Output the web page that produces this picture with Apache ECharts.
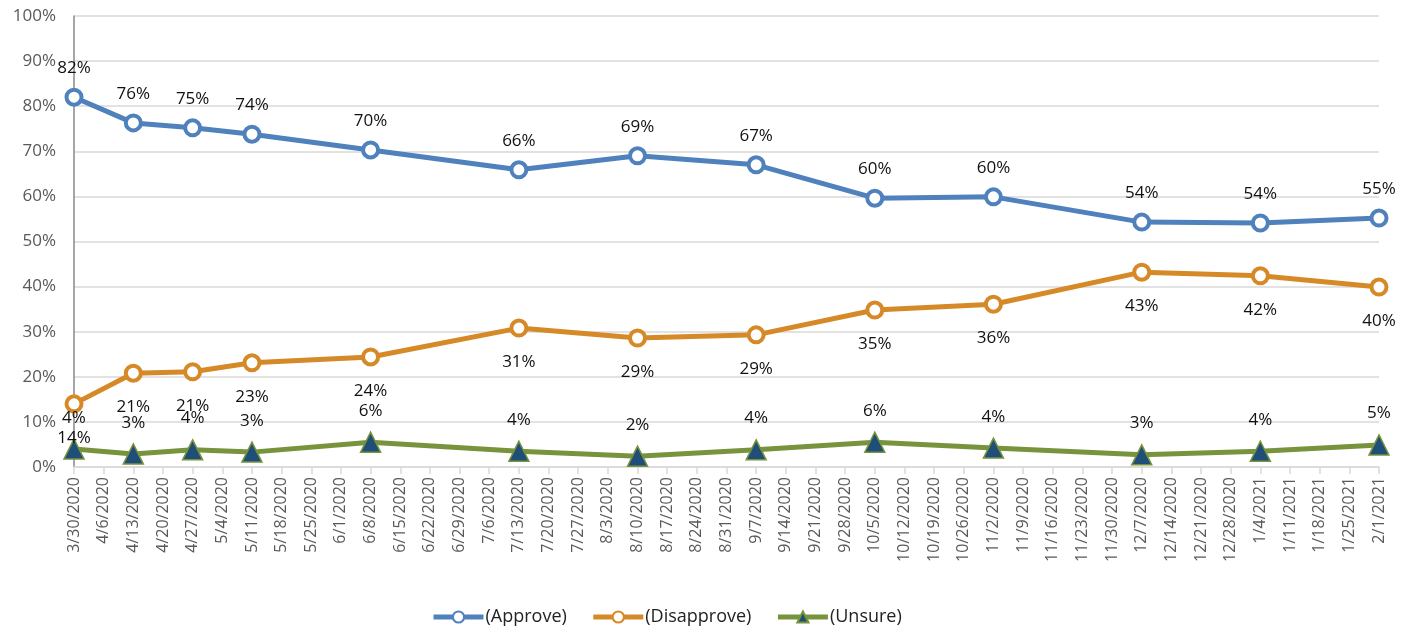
<!DOCTYPE html>
<html>
<head>
<meta charset="utf-8">
<script src="https://cdn.jsdelivr.net/npm/echarts@6/dist/echarts.min.js"></script>
<style>
  html, body { margin: 0; padding: 0; background: #fff; }
  #chart { width: 1412px; height: 632px; }
</style>
</head>
<body>
<div id="chart"></div>
<script>
// weekly dates on the category axis
const dates = [
  '3/30/2020', '4/6/2020', '4/13/2020', '4/20/2020', '4/27/2020', '5/4/2020', '5/11/2020',
  '5/18/2020', '5/25/2020', '6/1/2020', '6/8/2020', '6/15/2020', '6/22/2020', '6/29/2020',
  '7/6/2020', '7/13/2020', '7/20/2020', '7/27/2020', '8/3/2020', '8/10/2020', '8/17/2020',
  '8/24/2020', '8/31/2020', '9/7/2020', '9/14/2020', '9/21/2020', '9/28/2020', '10/5/2020',
  '10/12/2020', '10/19/2020', '10/26/2020', '11/2/2020', '11/9/2020', '11/16/2020',
  '11/23/2020', '11/30/2020', '12/7/2020', '12/14/2020', '12/21/2020', '12/28/2020',
  '1/4/2021', '1/11/2021', '1/18/2021', '1/25/2021', '2/1/2021'
];
// survey dates that have values
const surveyDates = [
  '3/30/2020', '4/13/2020', '4/27/2020', '5/11/2020', '6/8/2020', '7/13/2020', '8/10/2020',
  '9/7/2020', '10/5/2020', '11/2/2020', '12/7/2020', '1/4/2021', '2/1/2021'
];
const approve = [82, 76.3, 75.2, 73.8, 70.3, 65.9, 69, 67, 59.6, 59.9, 54.3, 54.1, 55.2];
const disapprove = [14, 20.8, 21.1, 23.1, 24.4, 30.8, 28.6, 29.3, 34.8, 36.1, 43.2, 42.4, 39.9];
const unsure = [4, 2.9, 3.8, 3.3, 5.5, 3.5, 2.4, 3.8, 5.5, 4.2, 2.7, 3.5, 4.9];
const yTicks = [0, 10, 20, 30, 40, 50, 60, 70, 80, 90, 100];

function spread(vals) {
  return dates.map(d => {
    const i = surveyDates.indexOf(d);
    return i < 0 ? null : vals[i];
  });
}

const font = '"Open Sans", "Noto Sans", sans-serif';
const pct = p => Math.round(p.value) + '%';

function lineSeries(name, vals, color, pos, dist, opts) {
  return Object.assign({
    name: name,
    type: 'line',
    data: spread(vals),
    connectNulls: true,
    symbol: 'circle',
    symbolSize: 15,
    lineStyle: { color: color, width: 5 },
    itemStyle: { color: '#fff', borderColor: color, borderWidth: 4 },
    label: {
      show: true, position: pos, distance: dist, formatter: pct,
      color: '#111', fontSize: 17, fontFamily: font
    },
    emphasis: { disabled: true }
  }, opts || {});
}

const chart = echarts.init(document.getElementById('chart'));
chart.setOption({
  animation: false,
  textStyle: { fontFamily: font },
  grid: { left: 74, right: 33, top: 16, bottom: 165 },
  legend: {
    bottom: 1,
    left: 426,
    itemWidth: 50, itemHeight: 14, itemGap: 24,
    lineStyle: { width: 5 },
    textStyle: { fontSize: 18, color: '#222', fontFamily: font, padding: [0, 0, 0, -3] },
    data: ['(Approve)', '(Disapprove)', '(Unsure)']
  },
  xAxis: {
    type: 'category',
    data: dates,
    boundaryGap: false,
    axisLine: { lineStyle: { color: '#d9d9d9', width: 1.5 } },
    axisTick: { show: true, alignWithLabel: true, length: 7, lineStyle: { color: '#d9d9d9', width: 1.5 } },
    axisLabel: { interval: 0, rotate: 90, fontSize: 16, color: '#595959', margin: 10 }
  },
  yAxis: {
    type: 'value',
    min: 0, max: 100, interval: 10,
    axisLine: { show: true, lineStyle: { color: '#888', width: 1.5 } },
    axisTick: { show: false },
    splitLine: { lineStyle: { color: '#d9d9d9', width: 1.5 } },
    axisLabel: {
      fontSize: 17, color: '#595959', margin: 18,
      customValues: yTicks,
      formatter: v => v + '%'
    }
  },
  series: [
    lineSeries('(Approve)', approve, '#4F81BD', 'top', 11),
    lineSeries('(Disapprove)', disapprove, '#D68A27', 'bottom', 16),
    lineSeries('(Unsure)', unsure, '#77933C', 'top', 12, {
      symbol: 'triangle',
      symbolSize: 20,
      itemStyle: { color: '#1F4E79', borderColor: '#77933C', borderWidth: 1.5 }
    })
  ]
});
</script>
</body>
</html>
